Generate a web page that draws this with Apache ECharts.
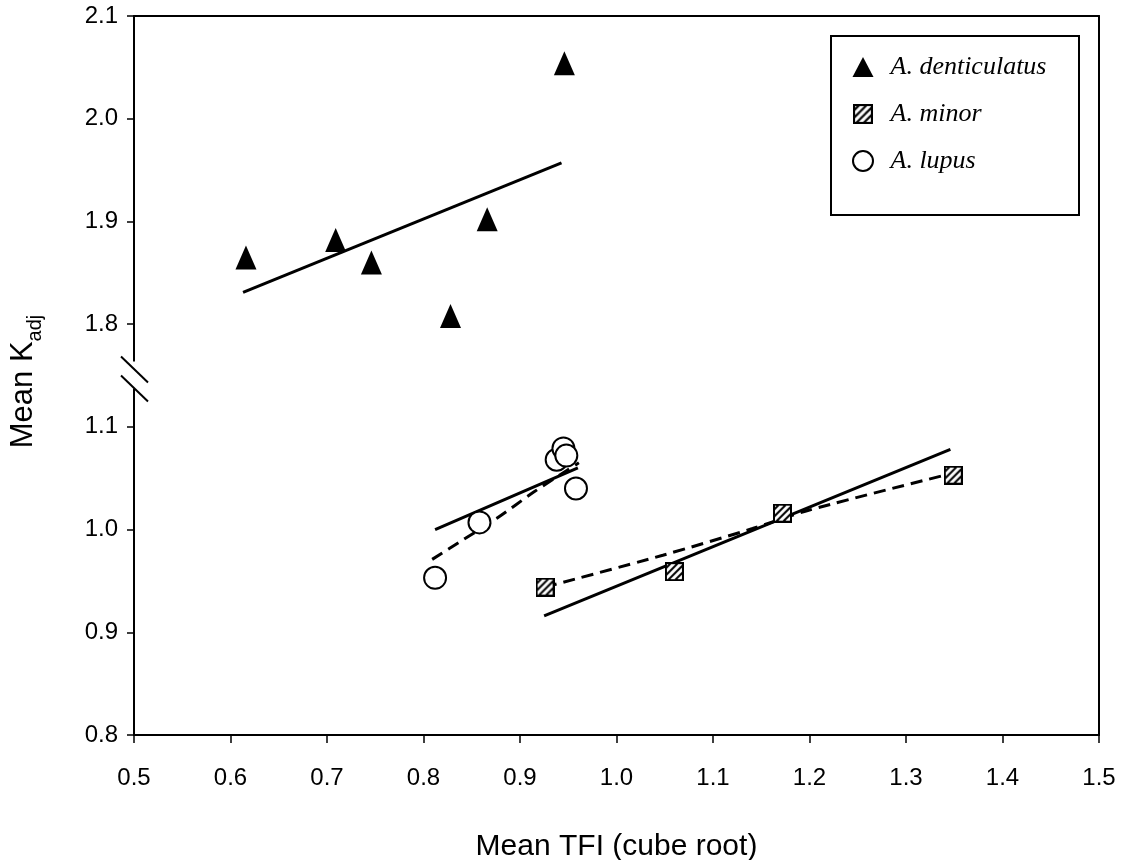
<!DOCTYPE html>
<html><head><meta charset="utf-8">
<script src="https://cdn.jsdelivr.net/npm/echarts@6/dist/echarts.min.js"></script>
<style>html,body{margin:0;padding:0;background:#fff}#c{width:1122px;height:860px}</style>
</head><body><div id="c"></div>
<script>
// ---- data ----
const xTickLabels = ['0.5','0.6','0.7','0.8','0.9','1.0','1.1','1.2','1.3','1.4','1.5'];
const yTickLabels = ['0.8','0.9','1.0','1.1','1.8','1.9','2.0','2.1'];

const denticX = [0.616, 0.709, 0.746, 0.828, 0.866, 0.946];
const denticY = [1.865, 1.882, 1.860, 1.808, 1.902, 2.054];
const denticFitX = [0.613, 0.943];
const denticFitY = [1.831, 1.957];

const minorX = [0.926, 1.060, 1.172, 1.349];
const minorY = [0.944, 0.959, 1.016, 1.053];
const minorFitX = [0.925, 1.346];
const minorFitY = [0.916, 1.078];
const minorCurveX = [0.926, 1.048, 1.141, 1.200, 1.349];
const minorCurveY = [0.944, 0.975, 1.001, 1.019, 1.055];

const lupusX = [0.812, 0.858, 0.938, 0.945, 0.948, 0.958];
const lupusY = [0.953, 1.007, 1.068, 1.079, 1.072, 1.040];
const lupusFitX = [0.812, 0.960];
const lupusFitY = [1.000, 1.060];
const lupusCurveX = [0.809, 0.841, 0.876, 0.915, 0.961];
const lupusCurveY = [0.971, 0.990, 1.011, 1.037, 1.065];

// broken axis: values in the upper panel (>=1.5) are shifted down by 0.6
const BREAK_SHIFT = 0.6;
function toAxis(v){ return v >= 1.5 ? v - BREAK_SHIFT : v; }
function pairs(xs, ys){ return xs.map((x, i) => [x, toAxis(ys[i])]); }

// hatched square symbol for A. minor
function hatchedSquare(s) {
  const c = document.createElement('canvas');
  c.width = s; c.height = s;
  const g = c.getContext('2d');
  g.fillStyle = '#fff'; g.fillRect(0, 0, s, s);
  g.save();
  g.beginPath(); g.rect(2, 2, s - 4, s - 4); g.clip();
  g.strokeStyle = '#000'; g.lineWidth = 2;
  g.beginPath();
  for (let k = -s; k <= 2 * s; k += 7) { g.moveTo(k, s); g.lineTo(k + s, 0); }
  g.stroke();
  g.restore();
  g.strokeStyle = '#000'; g.lineWidth = 2;
  g.strokeRect(1, 1, s - 2, s - 2);
  return 'image://' + c.toDataURL();
}
const minorSymbol = hatchedSquare(19);

const sans = 'Liberation Sans, Arial, sans-serif';
const serif = 'Liberation Serif, Times New Roman, serif';

const chart = echarts.init(document.getElementById('c'), null, { renderer: 'canvas' });

const solid = { color: '#000', width: 3 };
const dashed = { color: '#000', width: 3, type: [12, 7] };

chart.setOption({
  animation: false,
  backgroundColor: '#fff',
  grid: { left: 134, right: 23, top: 16, bottom: 125, containLabel: false, outerBoundsMode: 'none' },
  xAxis: [{
    type: 'value', min: 0.5, max: 1.5, interval: 0.1,
    axisLine: { onZero: false, lineStyle: { color: '#000', width: 2 } },
    axisTick: { length: 8, lineStyle: { color: '#000', width: 1.5 } },
    axisLabel: { fontSize: 24, color: '#000', fontFamily: sans, margin: 31,
      formatter: v => xTickLabels[Math.round((v - 0.5) / 0.1)] },
    splitLine: { show: false },
    name: 'Mean TFI (cube root)', nameLocation: 'middle', nameGap: 97,
    nameTextStyle: { fontSize: 30, color: '#000', fontFamily: sans }
  }, {
    type: 'value', position: 'top', min: 0.5, max: 1.5,
    axisLine: { show: true, onZero: false, lineStyle: { color: '#000', width: 2 } },
    axisTick: { show: false }, axisLabel: { show: false }, splitLine: { show: false }
  }],
  yAxis: [{
    type: 'value', min: 0.8, max: 1.5, interval: 0.1,
    axisLine: { show: true, onZero: false, lineStyle: { color: '#000', width: 2 } },
    axisTick: { show: true, length: 7, lineStyle: { color: '#000', width: 1.5 } },
    axisLabel: { fontSize: 24, color: '#000', fontFamily: sans, margin: 16,
      formatter: v => yTickLabels[Math.round((v - 0.8) / 0.1)] },
    splitLine: { show: false },
    name: '{a|Mean K}{b|adj}', nameLocation: 'middle', nameGap: 89,
    nameTextStyle: {
      color: '#000', fontFamily: sans, padding: [0, 12, 0, 0],
      rich: {
        a: { fontSize: 31, fontFamily: sans, color: '#000', lineHeight: 34 },
        b: { fontSize: 20, fontFamily: sans, color: '#000', lineHeight: 44, verticalAlign: 'bottom' }
      }
    }
  }, {
    type: 'value', position: 'right', min: 0.8, max: 1.5,
    axisLine: { show: true, onZero: false, lineStyle: { color: '#000', width: 2 } },
    axisTick: { show: false }, axisLabel: { show: false }, splitLine: { show: false }
  }],
  legend: {
    data: [
      { name: 'A. denticulatus', icon: 'triangle', itemStyle: { color: '#000', borderWidth: 0 } },
      { name: 'A. minor', icon: minorSymbol },
      { name: 'A. lupus', icon: 'circle', itemStyle: { color: '#fff', borderColor: '#000', borderWidth: 2 } }
    ],
    orient: 'vertical', left: 852, top: 54, padding: 0,
    itemWidth: 21, itemHeight: 20, itemGap: 21, selectedMode: false,
    textStyle: { fontFamily: serif, fontStyle: 'italic', fontSize: 26, color: '#000',
      lineHeight: 26, padding: [0, 0, 0, 12] }
  },
  series: [
    { type: 'line', data: pairs(denticFitX, denticFitY), symbol: 'none', lineStyle: solid, z: 2, silent: true },
    { type: 'line', data: pairs(minorFitX, minorFitY), symbol: 'none', lineStyle: solid, z: 2, silent: true },
    { type: 'line', data: pairs(minorCurveX, minorCurveY), symbol: 'none', smooth: 0.3, lineStyle: dashed, z: 2, silent: true },
    { type: 'line', data: pairs(lupusFitX, lupusFitY), symbol: 'none', lineStyle: solid, z: 2, silent: true },
    { type: 'line', data: pairs(lupusCurveX, lupusCurveY), symbol: 'none', smooth: 0.3, lineStyle: dashed, z: 2, silent: true },
    { name: 'A. denticulatus', type: 'scatter', data: pairs(denticX, denticY),
      symbol: 'triangle', symbolSize: [21, 24], itemStyle: { color: '#000', opacity: 1 }, z: 3 },
    { name: 'A. minor', type: 'scatter', data: pairs(minorX, minorY),
      symbol: minorSymbol, symbolSize: 19, itemStyle: { opacity: 1 }, z: 3 },
    { name: 'A. lupus', type: 'scatter', data: pairs(lupusX, lupusY),
      symbol: 'circle', symbolSize: 22, itemStyle: { color: '#fff', borderColor: '#000', borderWidth: 2, opacity: 1 }, z: 3 }
  ]
});

// axis break marks and legend frame
const ax = chart.convertToPixel({ xAxisIndex: 0 }, 0.5);
const by = chart.convertToPixel({ yAxisIndex: 0 }, 1.15);
chart.setOption({
  graphic: [
    { type: 'rect', z: 100, shape: { x: ax - 4, y: by - 14, width: 8, height: 27 }, style: { fill: '#fff' } },
    { type: 'line', z: 101, shape: { x1: ax - 13, y1: by - 19, x2: ax + 14, y2: by + 7 }, style: { stroke: '#000', lineWidth: 2 } },
    { type: 'line', z: 101, shape: { x1: ax - 13, y1: by, x2: ax + 14, y2: by + 26 }, style: { stroke: '#000', lineWidth: 2 } },
    { type: 'rect', z: 100, shape: { x: 831, y: 36, width: 248, height: 179 }, style: { fill: 'none', stroke: '#000', lineWidth: 2 } }
  ]
});
</script>
</body></html>
